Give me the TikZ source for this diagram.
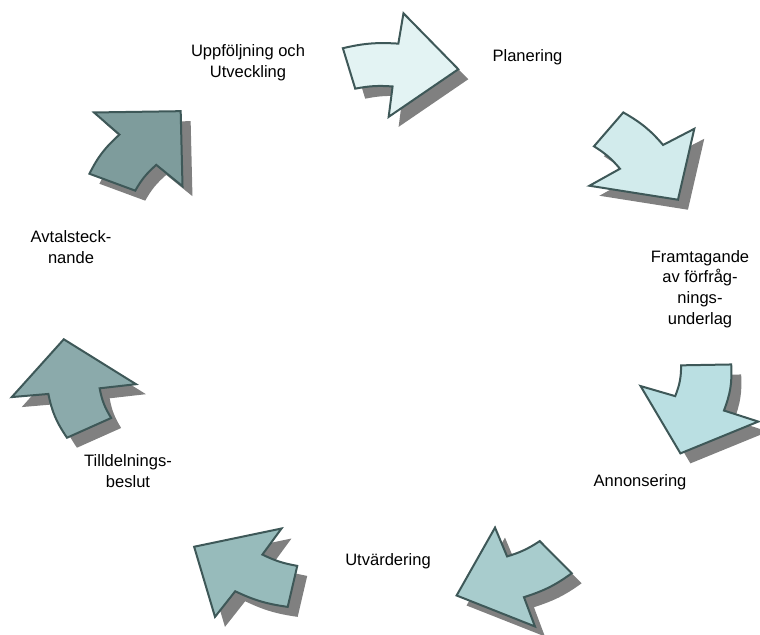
\documentclass[tikz,border=0pt]{standalone}
\usepackage{fontspec}
\setmainfont{Liberation Sans}

\definecolor{arrowline}{HTML}{3E5858}
\definecolor{arrowshade}{HTML}{808080}
\definecolor{stepA}{HTML}{E3F3F3}
\definecolor{stepB}{HTML}{D2EBEC}
\definecolor{stepC}{HTML}{BADFE2}
\definecolor{stepD}{HTML}{A8CCCD}
\definecolor{stepE}{HTML}{97BBBB}
\definecolor{stepF}{HTML}{8BAAAB}
\definecolor{stepG}{HTML}{7E9C9C}

% one bent block arrow, pointing along +x, outer side up
\newcommand{\cycleshape}{(-49,15) to[bend left=10] (-3,21.5) -- (0,52) -- (48,-2)
    -- (-8,-52) -- (-6,-21.5) to[bend right=9] (-37,-25) -- cycle}

\begin{document}
\begin{tikzpicture}[
            x=0.75pt, y=0.75pt,
            arrowbody/.style={
                draw=arrowline,
                line width=1.5pt
            },
            arrowshadow/.style={
                fill=arrowshade
            },
            phase/.style={
                align=center,
                inner sep=0pt,
                font=\fontsize{12.4}{15.5}\selectfont
            }
        ]

            \useasboundingbox (0,0) rectangle (760,635);

            \begin{scope}[shift={(387.5,304)}, xscale=1.2]
                \fill[arrowshadow, shift={(8.3,-10)}, shift={(87.6:266)}, rotate=-2.4] \cycleshape;
                \filldraw[arrowbody, fill=stepA, shift={(87.6:266)}, rotate=-2.4] \cycleshape;

                \fill[arrowshadow, shift={(8.3,-10)}, shift={(38.5:274)}, rotate=-52.5] \cycleshape;
                \filldraw[arrowbody, fill=stepB, shift={(38.5:274)}, rotate=-52.5] \cycleshape;

                \fill[arrowshadow, shift={(8.3,-10)}, shift={(-16.5:270)}, rotate=-105.5] \cycleshape;
                \filldraw[arrowbody, fill=stepC, shift={(-16.5:270)}, rotate=-105.5] \cycleshape;

                \fill[arrowshadow, shift={(8.3,-10)}, shift={(-67.5:268)}, rotate=-157] \cycleshape;
                \filldraw[arrowbody, fill=stepD, shift={(-67.5:268)}, rotate=-157] \cycleshape;

                \fill[arrowshadow, shift={(8.3,-10)}, shift={(-116.5:268)}, rotate=152.3] \cycleshape;
                \filldraw[arrowbody, fill=stepE, shift={(-116.5:268)}, rotate=152.3] \cycleshape;

                \fill[arrowshadow, shift={(8.3,-10)}, shift={(-168:268)}, rotate=101.5] \cycleshape;
                \filldraw[arrowbody, fill=stepF, shift={(-168:268)}, rotate=101.5] \cycleshape;

                \fill[arrowshadow, shift={(8.3,-10)}, shift={(138:276)}, rotate=49.4] \cycleshape;
                \filldraw[arrowbody, fill=stepG, shift={(138:276)}, rotate=49.4] \cycleshape;
            \end{scope}

            \node[phase] (plan) at (527.5, 578) {Planering};
            \node[phase] (spec) at (700, 346) {Framtagande\\av förfråg-\\nings-\\underlag};
            \node[phase] (ads) at (640, 153) {Annonsering};
            \node[phase] (eval) at (388, 74) {Utvärdering};
            \node[phase] (award) at (128, 164) {Tilldelnings-\\beslut};
            \node[phase] (contract) at (71, 388) {Avtalsteck-\\nande};
            \node[phase] (follow) at (248, 572) {Uppföljning och\\Utveckling};

        \end{tikzpicture}
\end{document}
